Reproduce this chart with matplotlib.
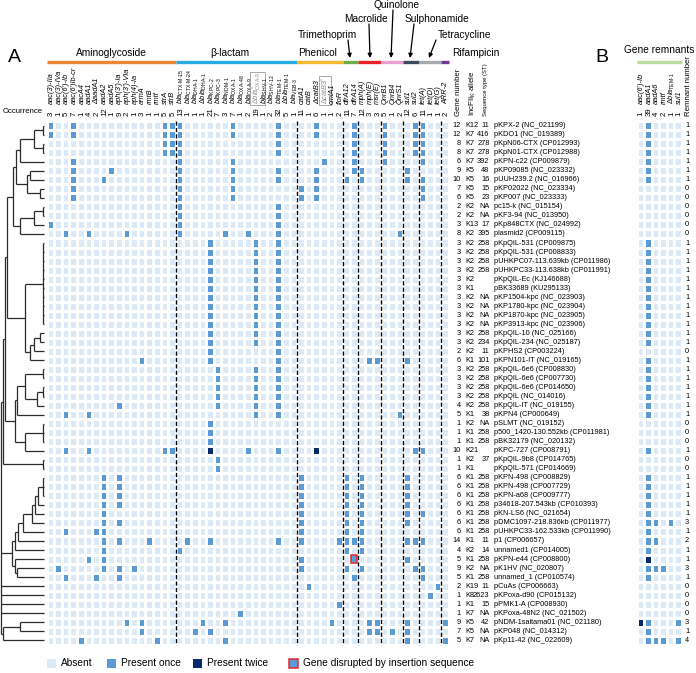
import numpy as np
import matplotlib
matplotlib.use('Agg')
import matplotlib.pyplot as plt
from matplotlib import transforms
from matplotlib.colors import ListedColormap
from matplotlib.patches import Rectangle

plt.rcParams['font.family'] = ['Liberation Sans', 'DejaVu Sans']
plt.rcParams['mathtext.fontset'] = 'custom'
plt.rcParams['mathtext.rm'] = 'Liberation Sans'
plt.rcParams['mathtext.it'] = 'Liberation Sans:italic'
plt.rcParams['mathtext.bf'] = 'Liberation Sans:bold'

# ---- data ----
genes = ["aac(3)-IIa", "aac(3)-IVa", "aac(6')-Ib", "aac(6')Ib-cr", "aacA4", "aadA1", "ΔaadA1", "aadA2",
         "aadA5", "aph(3')-Ia", "aph(3')-VIa", "aph(4)-Ia", "armA", "rmtB", "rmtf", "strA", "strB",
         "blaCTX-M-15", "blaCTX-M-24", "blaDHA-1", "ΔblaDHA-1", "blaKPC-2", "blaKPC-3", "blaNDM-1",
         "blaOXA-1", "blaOXA-48", "blaOXA-9", "ΔblaOXA-9*", "blaSHV-1", "blaSHV-12", "blaTEM-1",
         "ΔblaTEM-1", "blaVEB-3",
         "catA1", "catB", "ΔcatB3", "ΔcatB3*", "cmlA1", "floR",
         "dfrA12", "dfrA14",
         "mph(A)", "mph(E)", "msr(E)",
         "QnrB1", "QnrB4", "QnrS1",
         "sul1", "sul2",
         "tet(A)", "tet(D)", "tet(G)",
         "ARR-2"]
occurrence = [3, 1, 5, 7, 1, 4, 2, 12, 1, 9, 2, 1, 3, 1, 1, 5, 5,
              13, 1, 1, 1, 21, 7, 3, 7, 1, 2, 19, 1, 2, 32, 5, 1,
              11, 1, 6, 1, 1, 2,
              11, 7,
              12, 3, 3,
              5, 1, 2,
              12, 6,
              11, 1, 1,
              2]
boxed = ["ΔblaOXA-9*", "ΔcatB3*"]

groups = ['Aminoglycoside', 'β-lactam', 'Phenicol', 'Trimethoprim', 'Macrolide',
          'Quinolone', 'Sulphonamide', 'Tetracycline', 'Rifampicin']
group_sizes = [17, 16, 6, 2, 3, 3, 2, 3, 1]
group_colors = ['#EE8533', '#29ABE2', '#F8B930', '#6DAE4A', '#E8242B',
                '#E9A1CF', '#3E4A5E', '#A7A9AC', '#6D3A96']

plasmids = ["pKPX-2 (NC_021199)", "pKDO1 (NC_019389)", "pKpN06-CTX (CP012993)", "pKpN01-CTX (CP012988)",
            "pKPN-c22 (CP009879)", "pKP09085 (NC_023332)", "pUUH239.2 (NC_016966)", "pKP02022 (NC_023334)",
            "pKP007 (NC_023333)", "pc15-k (NC_015154)", "pKF3-94 (NC_013950)", "pKp848CTX (NC_024992)",
            "plasmid2 (CP009115)", "pKpQIL-531 (CP009875)", "pKpQIL-531 (CP008833)",
            "pUHKPC07-113.639kb (CP011986)", "pUHKPC33-113.638kb (CP011991)", "pKpQIL-Ec (KJ146688)",
            "pBK33689 (KU295133)", "pKP1504-kpc (NC_023903)", "pKP1780-kpc (NC_023904)",
            "pKP1870-kpc (NC_023905)", "pKP3913-kpc (NC_023906)", "pKpQIL-10 (NC_025166)",
            "pKpQIL-234 (NC_025187)", "pKPHS2 (CP003224)", "pKPN101-IT (NC_019165)",
            "pKpQIL-6e6 (CP008830)", "pKpQIL-6e6 (CP007730)", "pKpQIL-6e6 (CP014650)",
            "pKpQIL (NC_014016)", "pKpQIL-IT (NC_019155)", "pKPN4 (CP000649)", "pSLMT (NC_019152)",
            "p500_1420-130.552kb (CP011981)", "pBK32179 (NC_020132)", "pKPC-727 (CP008791)",
            "pKpQIL-9b8 (CP014765)", "pKpQIL-571 (CP014669)", "pKPN-498 (CP008829)",
            "pKPN-498 (CP007729)", "pKPN-a68 (CP009777)", "p34618-207.543kb (CP010393)",
            "pKN-LS6 (NC_021654)", "pDMC1097-218.836kb (CP011977)", "pUHKPC33-162.533kb (CP011990)",
            "p1 (CP006657)", "unnamed1 (CP014005)", "pKPN-e44 (CP008800)", "pK1HV (NC_020807)",
            "unnamed_1 (CP010574)", "pCuAs (CP006663)", "pKPoxa-d90 (CP015132)", "pPMK1-A (CP008930)",
            "pKPoxa-48N2 (NC_021502)", "pNDM-1saitama01 (NC_021180)", "pKP048 (NC_014312)",
            "pKp11-42 (NC_022609)"]
gene_number = [12, 12, 8, 8, 6, 9, 10, 7, 6, 2, 2, 3, 8, 3, 3, 3, 3, 3, 3, 3, 3, 3, 3, 3, 3, 2, 6,
               3, 3, 3, 3, 4, 5, 1, 1, 1, 10, 1, 1, 6, 6, 6, 6, 6, 6, 6, 14, 4, 5, 9, 5, 2, 1, 1, 1, 9, 7, 5]
incf_allele = ['K12', 'K7', 'K7', 'K7', 'K7', 'K5', 'K5', 'K5', 'K5', 'K2', 'K2', 'K13', 'K2',
               'K2', 'K2', 'K2', 'K2', 'K2', 'K1', 'K2', 'K2', 'K2', 'K2', 'K2', 'K2', 'K2', 'K1',
               'K2', 'K2', 'K2', 'K2', 'K2', 'K1', 'K2', 'K1', 'K1', 'K21', 'K2', 'K1',
               'K1', 'K1', 'K1', 'K1', 'K1', 'K1', 'K1', 'K1', 'K2', 'K1', 'K2', 'K1',
               'K19', 'K8', 'K1', 'K7', 'K5', 'K5', 'K7']
seq_type = ['11', '416', '278', '278', '392', '48', '16', '15', '23', 'NA', 'NA', '17', '395',
            '258', '258', '258', '258', '', '', 'NA', 'NA', 'NA', 'NA', '258', '234', '11', '101',
            '258', '258', '258', '258', '258', '38', 'NA', '258', '258', '', '37', '',
            '258', '258', '258', '258', '258', '258', '258', '11', '14', '258', 'NA', '258',
            '11', '2623', '15', 'NA', '42', 'NA', 'NA']

# gene columns present in each plasmid (index into genes)
present = [
    [0, 3, 15, 16, 17, 24, 30, 35, 40, 44, 48, 49],
    [0, 3, 15, 16, 17, 24, 30, 35, 40, 44, 48, 49],
    [15, 16, 17, 30, 40, 44, 48, 49],
    [15, 16, 17, 30, 40, 44, 48, 49],
    [3, 17, 24, 36, 40, 44, 49],
    [3, 8, 17, 24, 30, 35, 40, 41, 47],
    [3, 7, 17, 24, 30, 35, 39, 41, 47, 49],
    [3, 17, 24, 33, 35, 49],
    [3, 17, 24, 33, 35, 49],
    [17, 30],
    [17, 30],
    [0, 17, 30],
    [2, 5, 10, 17, 23, 26, 30, 46],
    [21, 27, 30], [21, 27, 30], [21, 27, 30], [21, 27, 30], [21, 27, 30], [21, 27, 30],
    [21, 27, 30], [21, 27, 30], [21, 27, 30], [21, 27, 30], [21, 27, 30], [21, 27, 30],
    [21, 30],
    [12, 21, 30, 42, 43, 47],
    [22, 27, 30], [22, 27, 30], [22, 27, 30], [22, 27, 30],
    [9, 22, 27, 30],
    [2, 5, 27, 30, 46],
    [21], [21], [21],
    [2, 5, 15, 16, 21, 26, 30, 35, 48, 49],
    [22], [22],
    [7, 9, 33, 39, 41, 47], [7, 9, 33, 39, 41, 47], [7, 9, 33, 39, 41, 47], [7, 9, 33, 39, 41, 47],
    [7, 33, 39, 41, 47, 49],
    [7, 9, 33, 39, 41, 47],
    [2, 6, 7, 33, 39, 41],
    [7, 9, 13, 18, 21, 30, 33, 38, 39, 40, 41, 47, 48, 49],
    [7, 17, 39, 41],
    [5, 7, 33, 40, 47],
    [1, 7, 9, 11, 33, 39, 41, 48, 49],
    [2, 6, 9, 40, 49],
    [34, 51],
    [50],
    [38],
    [25],
    [10, 12, 20, 23, 37, 42, 43, 47, 52],
    [12, 19, 21, 42, 43, 45, 47],
    [4, 14, 23, 47, 52],
]
present_twice = [(36, 21), (36, 35)]   # (plasmid row, gene column)
disrupted = [(48, 40)]

remnant_genes = ["aac(6')-Ib", "aadA1", "aadA6", "rmtf", "ΔblaTEM-1", "sul1"]
remnant_occurrence = [1, 39, 4, 2, 1, 1]
remnant_present = [
    [1], [1], [1], [1], [1], [1], [1],
    [], [], [], [], [], [],
    [1], [1], [1], [1], [1], [1], [1], [1], [1], [1], [1], [1],
    [],
    [1],
    [1], [1], [1], [1], [1], [1],
    [], [], [],
    [1],
    [], [],
    [1], [1], [1], [1], [1],
    [1, 2, 4],
    [1],
    [1, 2],
    [1],
    [1],
    [1, 2, 3],
    [1],
    [], [], [], [],
    [0, 1, 5],
    [1],
    [1, 2, 3, 5],
]
remnant_twice = [(48, 1), (55, 0)]
remnant_number = [1, 1, 1, 1, 1, 1, 1, 0, 0, 0, 0, 0, 0, 1, 1, 1, 1, 1, 1, 1, 1, 1, 1, 1, 1, 0, 1,
                  1, 1, 1, 1, 1, 1, 0, 0, 0, 1, 0, 0, 1, 1, 1, 1, 1, 3, 1, 2, 1, 1, 3, 1,
                  0, 0, 0, 0, 3, 1, 4]

# dendrogram: [junction x (px), children...], leaves are plasmid rows
dendro = [0.7,
          [3.3,
           [5,
            [6.7,
             [13.3,
              [16, [20, [34, [43, 0, 1], [43, 2, 3]], 4], [26.7, [30, 5, 6], [40, 7, 8]]],
              [20, [34, [43, 9, 10], 11], 12]],
             [25, [43, 13, 14, 15, 16, 17, 18, 19, 20, 21, 22], [30, [34, [40, 23, 24], 25], 26]]],
            [15,
             [16.7, [25, [43, 27, 28], [37, [43, 29, 30], 31]], 32],
             [25, [43, 33, 34, 35], 36]]],
           [43, 37, 38]],
          [12,
           [15, [18, [23, [32, [35, [38, [43, 39, 40, 41], 42], 43], 44], 45], 46], 47],
           [15, 48, [17, 49, 50]]],
          51, 52, 53, 54,
          [3.3, [20, 55, 56], 57]]

# ---- colours / layout ----
c_abs, c_once, c_twice = '#DCE9F6', '#5B9BD5', '#0A2A6E'
W, H = 696, 673
GX0, CW = 46.7, 7.59       # grid left, cell width (px)
GY0, RH = 121.1, 9.03      # grid top, row height (px)
BX0 = 636.5                # panel B grid left
FS = 5.3                   # row text size
nrow, ncol = len(plasmids), len(genes)

M = np.zeros((nrow, ncol))
for r, cols in enumerate(present):
    M[r, cols] = 1
for r, c in present_twice:
    M[r, c] = 2
MB = np.zeros((nrow, len(remnant_genes)))
for r, cols in enumerate(remnant_present):
    MB[r, cols] = 1
for r, c in remnant_twice:
    MB[r, c] = 2

try:
    from matplotlib.mathtext import MathTextParser
    MathTextParser('agg').parse(r'$\mathrm{a\text{-}b}$')
    HY = r'\text{-}'
except Exception:
    HY = '-'


def glabel(g):
    star = g.endswith('*')
    g = g.rstrip('*')
    if 'bla' in g:
        pre, sub = g.split('bla')
        s = (r'\Delta' if pre else '') + r'\mathit{bla}_{\mathrm{' + sub.replace('-', HY) + '}}'
        if star:
            s += '^{*}'
        return '$' + s + '$', 'normal'
    if star:
        return r'$\Delta\mathit{' + g[1:] + '}^{*}$', 'normal'
    return g, 'italic'


fig = plt.figure(figsize=(W / 100, H / 100), dpi=100)
ov = fig.add_axes([0, 0, 1, 1])
ov.set_xlim(0, W)
ov.set_ylim(H, 0)
ov.axis('off')

cmap = ListedColormap([c_abs, c_once, c_twice])
ax = fig.add_axes([GX0 / W, 1 - (GY0 + RH * nrow) / H, CW * ncol / W, RH * nrow / H])
ax.pcolormesh(M, cmap=cmap, vmin=-0.5, vmax=2.5, edgecolors='white', linewidth=0.8)
ax.set_xlim(0, ncol)
ax.set_ylim(nrow, 0)
ax.axis('off')
for r, c in disrupted:
    ax.add_patch(Rectangle((c + 0.06, r + 0.06), 0.88, 0.88, fc=c_once, ec='#E3262B', lw=1.1, zorder=5))

bounds = np.cumsum(group_sizes)
for b in bounds[:-1]:
    ax.plot([b, b], [0, nrow], color='k', lw=1.0, ls=(0, (3, 1.6)), zorder=4, clip_on=False)

axb = fig.add_axes([BX0 / W, 1 - (GY0 + RH * nrow) / H, CW * len(remnant_genes) / W, RH * nrow / H])
axb.pcolormesh(MB, cmap=cmap, vmin=-0.5, vmax=2.5, edgecolors='white', linewidth=0.8)
axb.set_xlim(0, len(remnant_genes))
axb.set_ylim(nrow, 0)
axb.axis('off')

# dendrogram
dax = fig.add_axes([0, 1 - (GY0 + RH * nrow) / H, GX0 / W, RH * nrow / H])
dax.set_xlim(0, GX0)
dax.set_ylim(nrow, 0)
dax.axis('off')


def draw(node):
    if isinstance(node, int):
        return 44.0, node + 0.5
    x = node[0]
    pts = [draw(ch) for ch in node[1:]]
    ys = [p[1] for p in pts]
    dax.plot([x, x], [min(ys), max(ys)], color='#2b2b2b', lw=0.9, solid_capstyle='butt')
    for cx, cy in pts:
        dax.plot([x, cx], [cy, cy], color='#2b2b2b', lw=0.9, solid_capstyle='butt')
    return x, (min(ys) + max(ys)) / 2


draw(dendro)

# column headers
tx = transforms.blended_transform_factory(ax.transData, ov.transData)
for j, g in enumerate(genes):
    lab, style = glabel(g)
    kw = {}
    col = 'k'
    if g in boxed:
        col = '#8c8c8c'
        kw['bbox'] = dict(boxstyle='square,pad=0.1', fc='white', ec='#9a9a9a', lw=0.6)
    ov.text(j + 0.5, 104.5, lab, transform=tx, rotation=90, rotation_mode='anchor', ha='left',
            va='center_baseline', fontsize=5.3, style=style, color=col, **kw)
    ov.text(j + 0.5, 116, str(occurrence[j]), transform=tx, rotation=90, rotation_mode='anchor',
            ha='left', va='center_baseline', fontsize=5.6)
ov.text(43, 111.5, 'Occurrence', ha='right', va='center', fontsize=5.6)

start = 0
for g, n, c in zip(groups, group_sizes, group_colors):
    ov.plot([start, start + n], [62, 62], transform=tx, color=c, lw=2.4, solid_capstyle='butt')
    start += n

ov.text(111, 53, 'Aminoglycoside', ha='center', va='center', fontsize=7.3)
ov.text(230, 53, 'β-lactam', ha='center', va='center', fontsize=7.3)
ov.text(318, 53, 'Phenicol', ha='center', va='center', fontsize=7.3)
ov.text(327, 35, 'Trimethoprim', ha='center', va='center', fontsize=7.3)
ov.text(366, 19, 'Macrolide', ha='center', va='center', fontsize=7.3)
ov.text(397, 5.5, 'Quinolone', ha='center', va='center', fontsize=7.3)
ov.text(437, 19, 'Sulphonamide', ha='center', va='center', fontsize=7.3)
ov.text(465, 35, 'Tetracycline', ha='center', va='center', fontsize=7.3)
ov.text(476, 53, 'Rifampicin', ha='center', va='center', fontsize=7.3)
arrows = [((348, 40), (350, 58)), ((369, 24), (370, 58)), ((393, 10), (391, 58)),
          ((414, 24), (410, 58)), ((436, 40), (429, 58))]
for p0, p1 in arrows:
    ov.annotate('', xy=p1, xytext=p0, arrowprops=dict(arrowstyle='-|>', lw=0.9, color='k',
                                                      mutation_scale=6, shrinkA=0, shrinkB=0))

ov.text(14, 57, 'A', ha='center', va='center', fontsize=14)
ov.text(602, 57, 'B', ha='center', va='center', fontsize=14)

# right side text per plasmid
ty = transforms.blended_transform_factory(ov.transData, ax.transData)
for r in range(nrow):
    y = r + 0.5
    ov.text(461, y, str(gene_number[r]), transform=ty, ha='right', va='center', fontsize=FS)
    ov.text(465, y, incf_allele[r], transform=ty, ha='left', va='center', fontsize=FS)
    ov.text(489.5, y, seq_type[r], transform=ty, ha='right', va='center', fontsize=FS)
    ov.text(494, y, plasmids[r], transform=ty, ha='left', va='center', fontsize=FS)
    ov.text(687, y, str(remnant_number[r]), transform=ty, ha='center', va='center', fontsize=FS)

ov.text(457, 116, 'Gene number', rotation=90, rotation_mode='anchor', ha='left',
        va='center_baseline', fontsize=5.6)
ov.text(471, 116, r'IncFII$_{\mathrm{K}}$ allele', rotation=90, rotation_mode='anchor', ha='left',
        va='center_baseline', fontsize=5.6)
ov.text(485.5, 116, 'Sequence type (ST)', rotation=90, rotation_mode='anchor', ha='left',
        va='center_baseline', fontsize=4.2)

# panel B header
txb = transforms.blended_transform_factory(axb.transData, ov.transData)
for j, g in enumerate(remnant_genes):
    lab, style = glabel(g)
    ov.text(j + 0.5, 104.5, lab, transform=txb, rotation=90, rotation_mode='anchor', ha='left',
            va='center_baseline', fontsize=5.3, style=style)
    ov.text(j + 0.5, 116, str(remnant_occurrence[j]), transform=txb, rotation=90,
            rotation_mode='anchor', ha='left', va='center_baseline', fontsize=5.6)
ov.plot([0, len(remnant_genes)], [62, 62], transform=txb, color='#B8DB9F', lw=2.4,
        solid_capstyle='butt')
ov.text(624, 50, 'Gene remnants', ha='left', va='center', fontsize=7.3)
ov.text(688, 116, 'Remnant number', rotation=90, rotation_mode='anchor', ha='left',
        va='center_baseline', fontsize=5.6)

# legend
leg = [('Absent', c_abs, 'none'), ('Present once', c_once, 'none'),
       ('Present twice', c_twice, 'none'), ('Gene disrupted by insertion sequence', c_once, '#E3262B')]
leg_x = [47, 107, 193, 289]
for (lab, fc, ec), x in zip(leg, leg_x):
    ov.add_patch(Rectangle((x, 658.5), 9, 9, fc=fc, ec=ec, lw=1.1))
    ov.text(x + 14, 663, lab, ha='left', va='center', fontsize=7.3)

fig.savefig('out.png', dpi=100, facecolor='white')
